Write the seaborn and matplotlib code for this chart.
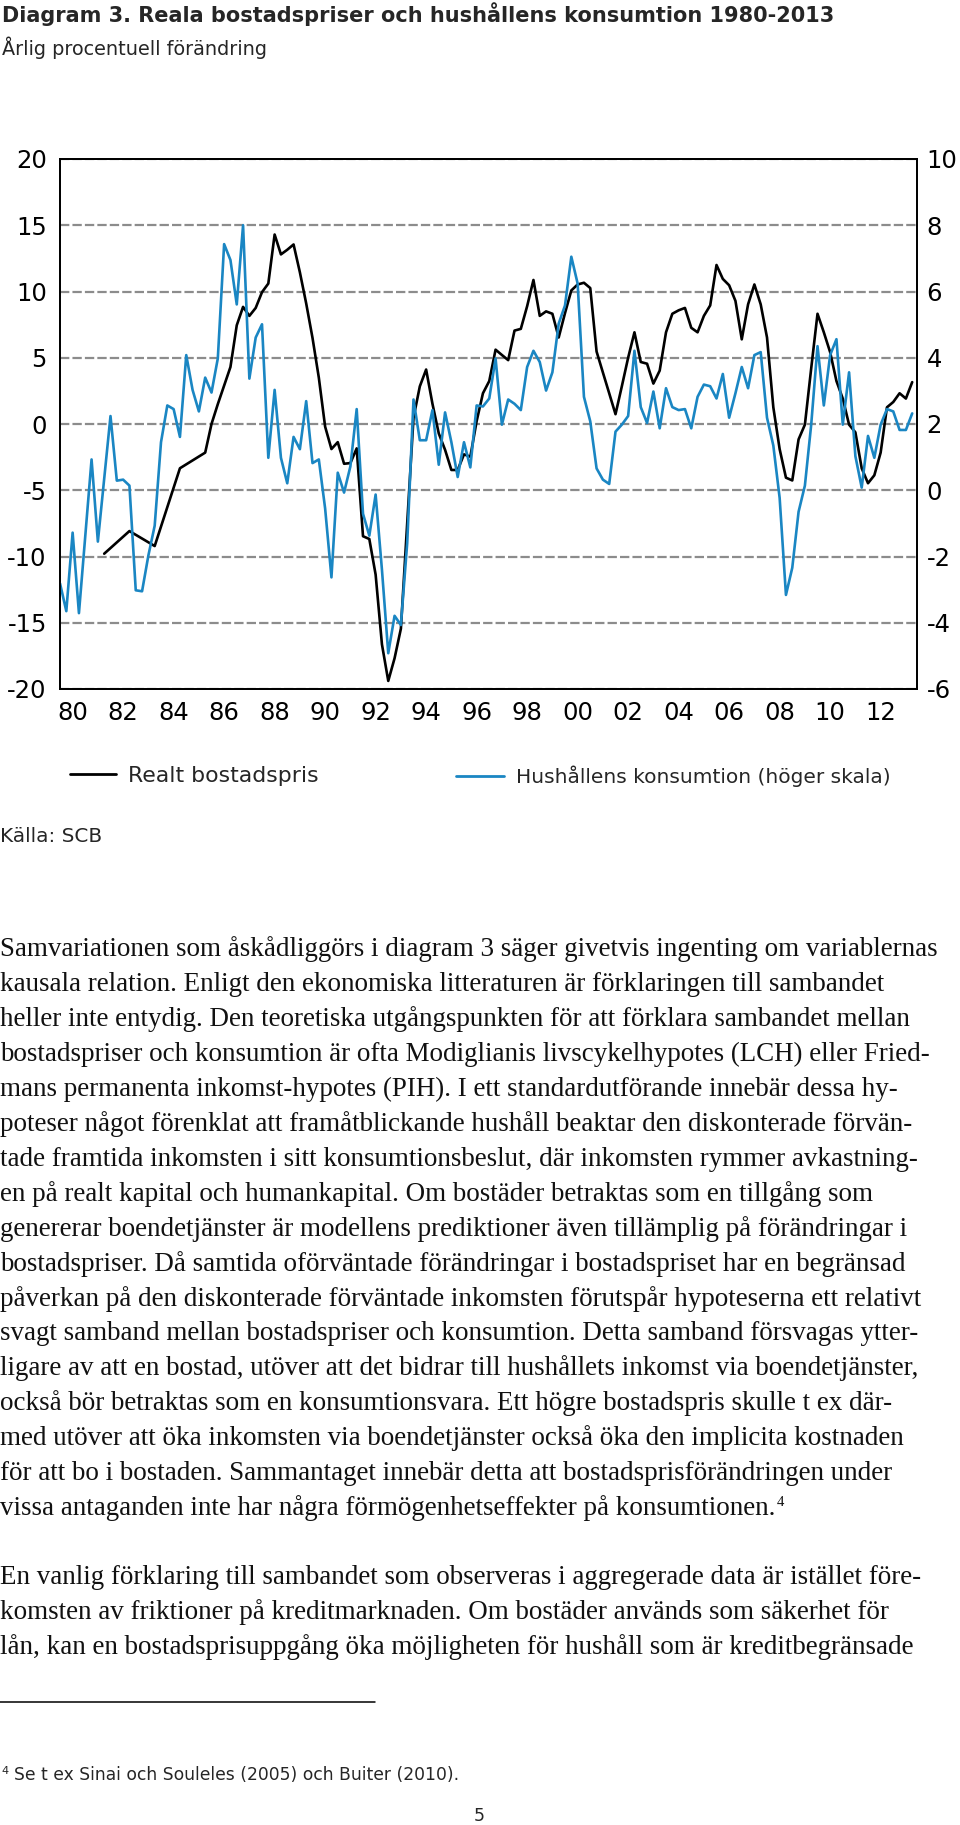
import numpy as np
import pandas as pd
import matplotlib
matplotlib.use("Agg")
import matplotlib.pyplot as plt
import seaborn as sns
from matplotlib.lines import Line2D

# ---------------- data ----------------
years_start = 1980
n_quarters = 136  # 1980K1 - 2013K4
quarters = [f"{years_start + k // 4}K{k % 4 + 1}" for k in range(n_quarters)]

# Hushållens konsumtion, årlig procentuell förändring (höger skala)
consumption = [
    -2.81, -3.65, -1.28, -3.71, -1.40, 0.93, -1.55, 0.35,
    2.24, 0.29, 0.32, 0.14, -3.02, -3.05, -1.97, -1.07,
    1.45, 2.56, 2.45, 1.61, 4.08, 3.03, 2.38, 3.40,
    2.95, 3.98, 7.43, 6.95, 5.61, 8.00, 3.37, 4.61,
    5.01, 0.98, 3.03, 0.98, 0.21, 1.61, 1.24, 2.69,
    0.82, 0.93, -0.55, -2.63, 0.53, -0.07, 0.72, 2.45,
    -0.71, -1.37, -0.13, -2.40, -4.92, -3.79, -4.07, -1.60,
    2.74, 1.51, 1.51, 2.42, 0.77, 2.35, 1.45, 0.40,
    1.45, 0.69, 2.56, 2.53, 2.77, 3.98, 1.98, 2.74,
    2.61, 2.42, 3.72, 4.21, 3.87, 3.01, 3.56, 5.03,
    5.58, 7.05, 6.24, 2.82, 2.08, 0.66, 0.32, 0.19,
    1.77, 1.98, 2.24, 4.21, 2.51, 2.03, 2.98, 1.87,
    3.08, 2.51, 2.42, 2.45, 1.87, 2.82, 3.19, 3.14,
    2.77, 3.51, 2.19, 2.93, 3.72, 3.08, 4.08, 4.17,
    2.19, 1.35, -0.23, -3.16, -2.34, -0.65, 0.14, 1.98,
    4.35, 2.56, 4.08, 4.56, 1.98, 3.56, 1.03, 0.08,
    1.64, 0.98, 1.98, 2.45, 2.38, 1.82, 1.82, 2.32,
]

# Realt bostadspris, årlig procentuell förändring (vänster skala); None = ingen observation
house_price = [
    None, None, None, None, None, None, None, -9.79,
    None, None, None, -8.08, None, None, None, -9.21,
    None, None, None, -3.34, None, None, None, -2.16,
    0.00, 1.50, 2.90, 4.30, 7.45, 8.84, 8.16, 8.76,
    9.95, 10.60, 14.30, 12.80, 13.15, 13.55, 11.45, 9.10,
    6.50, 3.50, -0.20, -1.89, -1.37, -3.00, -2.95, -1.84,
    -8.47, -8.68, -11.37, -16.63, -19.39, -17.68, -15.45, -7.50,
    0.47, 2.84, 4.11, 1.53, -0.71, -1.95, -3.47, -3.47,
    -2.29, -2.47, 0.21, 2.32, 3.24, 5.61, 5.21, 4.82,
    7.05, 7.18, 8.89, 10.87, 8.16, 8.50, 8.32, 6.53,
    8.37, 10.08, 10.53, 10.66, 10.26, 5.47, 3.89, 2.32,
    0.74, 2.84, 5.00, 6.92, 4.68, 4.55, 3.05, 4.03,
    6.92, 8.32, 8.58, 8.76, 7.26, 6.92, 8.16, 8.95,
    12.00, 10.95, 10.47, 9.29, 6.39, 9.03, 10.53, 9.03,
    6.53, 1.26, -1.89, -4.05, -4.26, -1.16, -0.05, 4.20,
    8.32, 6.92, 5.42, 3.24, 1.92, -0.05, -0.63, -3.34,
    -4.47, -3.87, -2.16, 1.26, 1.66, 2.32, 1.92, 3.16,
]

x_tick_labels = ["80", "82", "84", "86", "88", "90", "92", "94", "96",
                 "98", "00", "02", "04", "06", "08", "10", "12"]
left_ticks = [20, 15, 10, 5, 0, -5, -10, -15, -20]
right_ticks = [10, 8, 6, 4, 2, 0, -2, -4, -6]

series_names = ["Realt bostadspris", "Hushållens konsumtion (höger skala)"]

title = "Diagram 3. Reala bostadspriser och hushållens konsumtion 1980-2013"
subtitle = "Årlig procentuell förändring"
source = "Källa: SCB"

body_par1 = [
    "Samvariationen som åskådliggörs i diagram 3 säger givetvis ingenting om variablernas",
    "kausala relation. Enligt den ekonomiska litteraturen är förklaringen till sambandet",
    "heller inte entydig. Den teoretiska utgångspunkten för att förklara sambandet mellan",
    "bostadspriser och konsumtion är ofta Modiglianis livscykelhypotes (LCH) eller Fried-",
    "mans permanenta inkomst-hypotes (PIH). I ett standardutförande innebär dessa hy-",
    "poteser något förenklat att framåtblickande hushåll beaktar den diskonterade förvän-",
    "tade framtida inkomsten i sitt konsumtionsbeslut, där inkomsten rymmer avkastning-",
    "en på realt kapital och humankapital. Om bostäder betraktas som en tillgång som",
    "genererar boendetjänster är modellens prediktioner även tillämplig på förändringar i",
    "bostadspriser. Då samtida oförväntade förändringar i bostadspriset har en begränsad",
    "påverkan på den diskonterade förväntade inkomsten förutspår hypoteserna ett relativt",
    "svagt samband mellan bostadspriser och konsumtion. Detta samband försvagas ytter-",
    "ligare av att en bostad, utöver att det bidrar till hushållets inkomst via boendetjänster,",
    "också bör betraktas som en konsumtionsvara. Ett högre bostadspris skulle t ex där-",
    "med utöver att öka inkomsten via boendetjänster också öka den implicita kostnaden",
    "för att bo i bostaden. Sammantaget innebär detta att bostadsprisförändringen under",
    "vissa antaganden inte har några förmögenhetseffekter på konsumtionen.",
]
body_par2 = [
    "En vanlig förklaring till sambandet som observeras i aggregerade data är istället före-",
    "komsten av friktioner på kreditmarknaden. Om bostäder används som säkerhet för",
    "lån, kan en bostadsprisuppgång öka möjligheten för hushåll som är kreditbegränsade",
]
footnote_mark = "4"
footnote = "Se t ex Sinai och Souleles (2005) och Buiter (2010)."
page_number = "5"

# ---------------- styling ----------------
sns.set_theme(style="white")
plt.rcParams["font.family"] = ["DejaVu Sans"]

BLUE = "#1a86c3"
GRID = "#8c8c8c"
W, H = 960, 1825

fig = plt.figure(figsize=(W / 100, H / 100), dpi=100)
renderer = fig.canvas.get_renderer()


def fy(px):
    return 1 - px / H


def fx(px):
    return px / W


df = pd.DataFrame({
    "q": np.arange(n_quarters),
    "kvartal": quarters,
    "price": pd.array(house_price, dtype="Float64").astype(float),
    "cons": consumption,
})

ax_l, ax_r, ax_t, ax_b = 60, 917, 159, 689
ax = fig.add_axes([fx(ax_l), fy(ax_b), fx(ax_r - ax_l), (ax_b - ax_t) / H])
ax2 = ax.twinx()

sns.lineplot(data=df.dropna(subset=["price"]), x="q", y="price", ax=ax,
             color="black", linewidth=1.9, label=series_names[0], legend=False)
sns.lineplot(data=df, x="q", y="cons", ax=ax2,
             color=BLUE, linewidth=1.9, label=series_names[1], legend=False)

ax.set_xlim(0, 135.76)
ax.set_ylim(-20, 20)
ax2.set_ylim(-6, 10)
ax.set_yticks(left_ticks)
ax2.set_yticks(right_ticks)
ax.set_yticklabels([str(v) for v in left_ticks])
ax2.set_yticklabels([str(v) for v in right_ticks])
ax.set_xticks([2 + 8 * k for k in range(len(x_tick_labels))])
ax.set_xticklabels(x_tick_labels)
for a in (ax, ax2):
    a.set_xlabel("")
    a.set_ylabel("")
    a.tick_params(length=0, labelsize=17.5, colors="black")
ax.tick_params(axis="y", pad=9.5)
ax.tick_params(axis="x", pad=9)
ax2.tick_params(axis="y", pad=7)

ax.yaxis.grid(True, color=GRID, linewidth=1.6, linestyle=(0, (4.2, 1.4)))
ax.xaxis.grid(False)
ax2.grid(False)
for a in (ax, ax2):
    for s in a.spines.values():
        s.set_color("black")
        s.set_linewidth(1.3)
        s.set_visible(True)

# legend (two separate entries positioned like the original)
h1 = Line2D([], [], color="black", linewidth=2)
h2 = Line2D([], [], color=BLUE, linewidth=2)
leg_fs = 15
leg1 = fig.legend([h1], [series_names[0]], loc="center left",
                  bbox_to_anchor=(fx(70), fy(776)), frameon=False, fontsize=leg_fs + 0.8,
                  borderpad=0, borderaxespad=0, handlelength=2.1, handletextpad=0.55)
leg2 = fig.legend([h2], [series_names[1]], loc="center left",
                  bbox_to_anchor=(fx(456), fy(776)), frameon=False, fontsize=leg_fs - 0.5,
                  borderpad=0, borderaxespad=0, handlelength=2.4, handletextpad=0.6)

# titles
fig.text(fx(2), fy(22), title, fontsize=15, fontweight="bold", va="baseline", ha="left")
fig.text(fx(2), fy(55), subtitle, fontsize=13.9, va="baseline", ha="left")
fig.text(fx(0), fy(842), source, fontsize=14.4, va="baseline", ha="left")

# body text
serif = "Liberation Serif"
probe = fig.text(0, 0, body_par1[0], fontsize=10, family=serif)
w10 = probe.get_window_extent(renderer).width
probe.remove()
body_fs = 10 * 940 / w10

base = 956
step = 34.95
last = None
for k, line in enumerate(body_par1):
    last = fig.text(fx(0), fy(base + k * step), line, fontsize=body_fs, family=serif,
                    va="baseline", ha="left", color="#111111")
bb = last.get_window_extent(renderer)
fig.text(bb.x1 / W + 0.001, fy(base + 16 * step - 9), footnote_mark, fontsize=body_fs * 0.55,
         family=serif, va="baseline", ha="left", color="#111111")

base2 = 1584
for k, line in enumerate(body_par2):
    fig.text(fx(0), fy(base2 + k * step), line, fontsize=body_fs, family=serif,
             va="baseline", ha="left", color="#111111")

# footnote rule
fig.add_artist(Line2D([fx(0), fx(375)], [fy(1702), fy(1702)], color="black", linewidth=1.1))
fig.text(fx(1), fy(1774), footnote_mark, fontsize=8, va="baseline", ha="left")
fig.text(fx(14), fy(1780), footnote, fontsize=12.3, va="baseline", ha="left")
fig.text(fx(479), fy(1821), page_number, fontsize=12.5, va="baseline", ha="center")

fig.savefig("out.png", dpi=100, facecolor="white")
